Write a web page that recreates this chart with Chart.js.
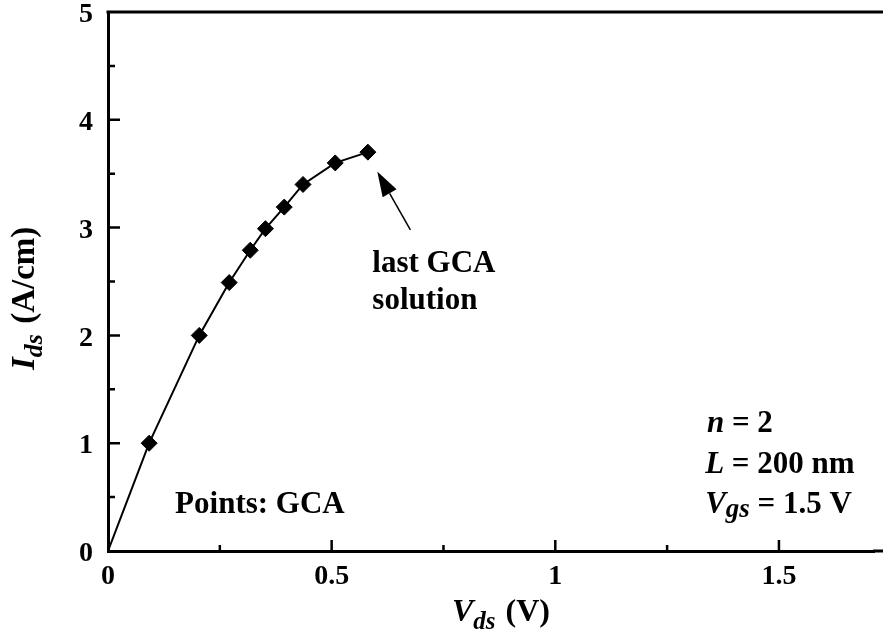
<!DOCTYPE html>
<html>
<head>
<meta charset="utf-8">
<script src="https://cdn.jsdelivr.net/npm/chart.js@4/dist/chart.umd.min.js"></script>
<style>
  html, body { margin: 0; padding: 0; background: #fff; overflow: hidden; }
  #wrap { width: 883px; height: 635px; overflow: hidden; }
  canvas { display: block; }
</style>
</head>
<body>
<div id="wrap"><canvas id="c" width="883" height="635"></canvas></div>
<script>
// ---- data ----
const vds = [0, 0.092, 0.204, 0.271, 0.318, 0.352, 0.394, 0.436, 0.508, 0.581];
const ids = [0, 1.0, 2.0, 2.49, 2.79, 2.99, 3.19, 3.40, 3.60, 3.70];
const markerShown = [0, 1, 1, 1, 1, 1, 1, 1, 1, 1];
const xTickValues = [0, 0.5, 1, 1.5];
const xTickLabels = ['0', '0.5', '1', '1.5'];
const yTickValues = [0, 1, 2, 3, 4, 5];
const yTickLabels = ['0', '1', '2', '3', '4', '5'];

const FONT = '"Liberation Serif", "Times New Roman", serif';

const points = vds.map((v, i) => ({ x: v, y: ids[i] }));

function drawRich(ctx, x, y, parts) {
  let cx = x;
  for (const p of parts) {
    ctx.font = (p.italic ? 'italic ' : '') + 'bold ' + p.size + 'px ' + FONT;
    ctx.fillText(p.t, cx, y + (p.dy || 0));
    cx += ctx.measureText(p.t).width + (p.kern || 0);
  }
}

const decor = {
  id: 'decor',
  afterDraw(chart) {
    const ctx = chart.ctx;
    const xs = chart.scales.x, ys = chart.scales.y;
    const a = chart.chartArea;
    ctx.save();
    ctx.strokeStyle = '#000';
    ctx.fillStyle = '#000';
    // top frame line and x-axis line run to the page edge
    ctx.lineWidth = 3;
    ctx.beginPath();
    ctx.moveTo(a.left - 1.5, a.top);
    ctx.lineTo(chart.width, a.top);
    ctx.moveTo(a.right - 1, a.bottom);
    ctx.lineTo(chart.width, a.bottom);
    ctx.stroke();

    // inward ticks, y axis
    ctx.lineWidth = 2.5;
    ctx.beginPath();
    for (let i = 0; i < yTickValues.length; i++) {
      const py = ys.getPixelForValue(yTickValues[i]);
      if (yTickValues[i] > ys.min && yTickValues[i] < ys.max) {
        ctx.moveTo(a.left, py); ctx.lineTo(a.left + 12, py);
      }
      if (i < yTickValues.length - 1) {
        const m = ys.getPixelForValue((yTickValues[i] + yTickValues[i + 1]) / 2);
        ctx.moveTo(a.left, m); ctx.lineTo(a.left + 7, m);
      }
    }
    // inward ticks, x axis
    for (let i = 0; i < xTickValues.length; i++) {
      const px = xs.getPixelForValue(xTickValues[i]);
      if (xTickValues[i] > xs.min) {
        ctx.moveTo(px, a.bottom); ctx.lineTo(px, a.bottom - 11);
      }
      const mid = xTickValues[i] + 0.25;
      if (mid < xs.max) {
        const m = xs.getPixelForValue(mid);
        ctx.moveTo(m, a.bottom); ctx.lineTo(m, a.bottom - 6);
      }
    }
    ctx.stroke();

    // arrow
    const tx = xs.getPixelForValue(0.602), ty = ys.getPixelForValue(3.52);
    const sx = xs.getPixelForValue(0.676), sy = ys.getPixelForValue(2.98);
    const ang = Math.atan2(ty - sy, tx - sx);
    const hl = 25, hw = 8;
    const bx = tx - hl * Math.cos(ang), by = ty - hl * Math.sin(ang);
    ctx.lineWidth = 1.5;
    ctx.beginPath();
    ctx.moveTo(sx, sy); ctx.lineTo(bx, by); ctx.stroke();
    ctx.beginPath();
    ctx.moveTo(tx, ty);
    ctx.lineTo(bx + hw * Math.sin(ang), by - hw * Math.cos(ang));
    ctx.lineTo(bx - hw * Math.sin(ang), by + hw * Math.cos(ang));
    ctx.closePath();
    ctx.fill();

    // annotations
    ctx.textAlign = 'left';
    ctx.textBaseline = 'alphabetic';
    const at = (vx, vy) => [xs.getPixelForValue(vx), ys.getPixelForValue(vy)];
    let p;
    p = at(0.591, 2.59);
    drawRich(ctx, p[0], p[1], [{ t: 'last GCA', size: 31 }]);
    p = at(0.591, 2.245);
    drawRich(ctx, p[0], p[1], [{ t: 'solution', size: 31 }]);
    p = at(0.150, 0.35);
    drawRich(ctx, p[0], p[1], [{ t: 'Points: GCA', size: 31 }]);
    p = at(1.339, 1.107);
    drawRich(ctx, p[0], p[1], [{ t: 'n', size: 31, italic: true }, { t: ' = 2', size: 31 }]);
    p = at(1.335, 0.724);
    drawRich(ctx, p[0], p[1], [{ t: 'L', size: 31, italic: true }, { t: ' = 200 nm', size: 31 }]);
    p = at(1.335, 0.353);
    drawRich(ctx, p[0], p[1], [{ t: 'V', size: 31, italic: true }, { t: 'gs', size: 27, italic: true, dy: 4 }, { t: ' = 1.5 V', size: 31 }]);

    // x axis title
    drawRich(ctx, 452, 621, [{ t: 'V', size: 32, italic: true }, { t: 'ds', size: 25, italic: true, dy: 8, kern: 2 }, { t: ' (V)', size: 32 }]);

    // y axis title (rotated)
    ctx.translate(34, 370);
    ctx.rotate(-Math.PI / 2);
    drawRich(ctx, 0, 0, [{ t: 'I', size: 33, italic: true }, { t: 'ds', size: 26, italic: true, dy: 8, kern: 2 }, { t: ' (A/cm)', size: 33 }]);
    ctx.restore();
  }
};

new Chart(document.getElementById('c'), {
  type: 'scatter',
  data: {
    datasets: [{
      data: points,
      showLine: true,
      borderColor: '#000',
      borderWidth: 2,
      backgroundColor: '#000',
      pointStyle: 'rectRot',
      pointRadius: markerShown.map(m => m ? 8 : 0),
      pointBorderWidth: 1,
      pointBorderColor: '#000',
      pointBackgroundColor: '#000',
      tension: 0
    }]
  },
  options: {
    responsive: false,
    animation: false,
    devicePixelRatio: 1,
    layout: { padding: { top: 12, right: 0, left: 0, bottom: 0 } },
    plugins: { legend: { display: false }, tooltip: { enabled: false } },
    scales: {
      x: {
        type: 'linear',
        min: 0, max: 1.7125,
        afterFit: s => { s.height = 84; s.paddingLeft = 0; s.paddingRight = 0; },
        afterBuildTicks: s => { s.ticks = xTickValues.map(v => ({ value: v })); },
        grid: { display: false, drawTicks: false },
        border: { display: true, color: '#000', width: 3 },
        ticks: {
          padding: 9,
          color: '#000',
          font: { family: FONT, size: 28, weight: 'bold' },
          callback: (v) => { const i = xTickValues.indexOf(v); return i >= 0 ? xTickLabels[i] : ''; }
        }
      },
      y: {
        type: 'linear',
        min: 0, max: 5,
        afterFit: s => { s.width = 108; s.paddingTop = 0; s.paddingBottom = 0; },
        afterBuildTicks: s => { s.ticks = yTickValues.map(v => ({ value: v })); },
        grid: { display: false, drawTicks: false },
        border: { display: true, color: '#000', width: 3 },
        ticks: {
          padding: 15,
          labelOffset: 3,
          color: '#000',
          font: { family: FONT, size: 28, weight: 'bold' },
          callback: (v) => { const i = yTickValues.indexOf(v); return i >= 0 ? yTickLabels[i] : ''; }
        }
      }
    }
  },
  plugins: [decor]
});
</script>
</body>
</html>
